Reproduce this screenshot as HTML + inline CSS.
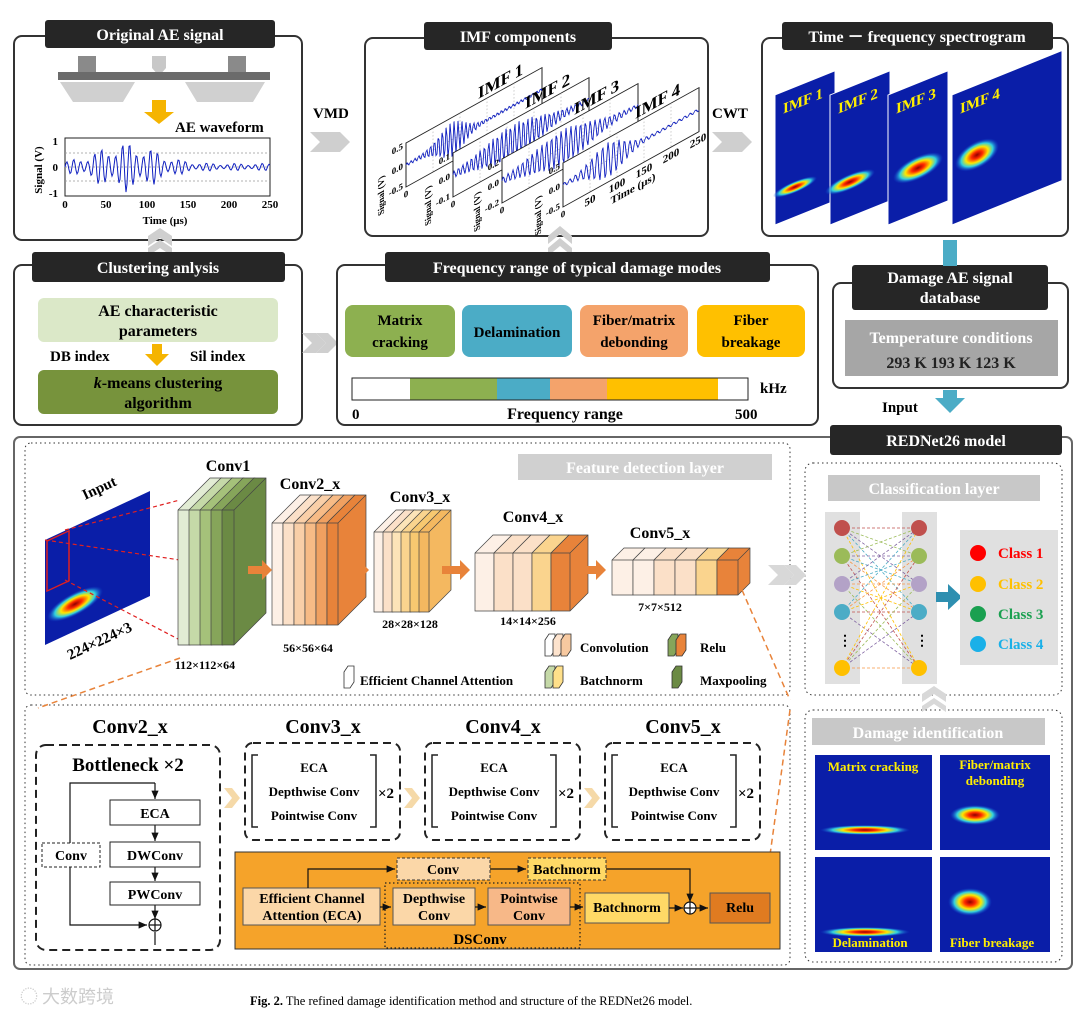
<!DOCTYPE html>
<html><head><meta charset="utf-8"><style>
html,body{margin:0;padding:0;background:#fff;}
svg{display:block;font-family:"Liberation Serif",serif;}
.b{font-weight:bold;}
</style></head><body>
<svg id="s" width="1080" height="1016" viewBox="0 0 1080 1016" xmlns="http://www.w3.org/2000/svg">
<defs>
<radialGradient id="hot" cx="50%" cy="50%" r="50%">
<stop offset="0" stop-color="#900000"/><stop offset="0.25" stop-color="#ff2a00"/><stop offset="0.5" stop-color="#ffe600"/><stop offset="0.72" stop-color="#30d0e0"/><stop offset="1" stop-color="#1040d0" stop-opacity="0"/>
</radialGradient>
<marker id="ah" markerWidth="8" markerHeight="8" refX="7" refY="4" orient="auto"><path d="M0,1 L7,4 L0,7z" fill="#111"/></marker>
</defs>

<!-- ===== Top row ===== -->
<rect x="14" y="36" width="288" height="204" rx="8" fill="#fff" stroke="#333" stroke-width="2"/>
<rect x="45" y="20" width="230" height="28" rx="3" fill="#262626"/>
<text x="160" y="40" fill="#fff" font-size="16" class="b" text-anchor="middle">Original AE signal</text>
<rect x="78" y="56" width="18" height="16" fill="#8a8a8a"/>
<rect x="228" y="56" width="18" height="16" fill="#8a8a8a"/>
<path d="M152 56 h14 v12 l-7 8 l-7 -8z" fill="#c8c8c8"/>
<rect x="58" y="72" width="212" height="8" fill="#6b6b6b"/>
<path d="M60 82 h75 l-12 20 h-50z M185 82 h80 l-12 20 h-56z" fill="#d0d0d0"/>
<path d="M152 100 h14 v12 h8 l-15 12 l-15 -12 h8z" fill="#f5b400"/>
<text x="175" y="132" font-size="15" class="b">AE waveform</text>
<rect x="65" y="138" width="205" height="58" fill="none" stroke="#222"/>
<g stroke="#999" stroke-dasharray="2,2" stroke-width="0.7"><line x1="65" y1="153" x2="270" y2="153"/><line x1="65" y1="167" x2="270" y2="167"/><line x1="65" y1="181" x2="270" y2="181"/></g>
<polyline id="w0" fill="none" stroke="#1020c0" stroke-width="1"/>
<g font-size="11" class="b" text-anchor="middle"><text x="65" y="208">0</text><text x="106" y="208">50</text><text x="147" y="208">100</text><text x="188" y="208">150</text><text x="229" y="208">200</text><text x="270" y="208">250</text>
<text x="58" y="145" text-anchor="end">1</text><text x="58" y="171" text-anchor="end">0</text><text x="58" y="197" text-anchor="end">-1</text></g>
<text x="165" y="224" font-size="11" class="b" text-anchor="middle">Time (μs)</text>
<text x="42" y="170" font-size="11" class="b" text-anchor="middle" transform="rotate(-90 42 170)">Signal (V)</text>

<!-- chevrons -->
<g fill="#cfcfcf"><path d="M310 132 h18 l10 10 l-10 10 h-18 l10 -10z"/><path d="M326 132 h14 l10 10 l-10 10 h-14 l10 -10z"/>
<path d="M712 132 h18 l10 10 l-10 10 h-18 l10 -10z"/><path d="M728 132 h14 l10 10 l-10 10 h-14 l10 -10z"/></g>
<text x="313" y="118" font-size="15" class="b">VMD</text>
<text x="712" y="118" font-size="15" class="b">CWT</text>

<rect x="365" y="38" width="343" height="198" rx="8" fill="#fff" stroke="#333" stroke-width="2"/>
<g id="imfs"></g>
<rect x="424" y="22" width="188" height="28" rx="3" fill="#262626"/>
<text x="518" y="42" fill="#fff" font-size="16" class="b" text-anchor="middle">IMF components</text>

<rect x="762" y="38" width="306" height="198" rx="8" fill="#fff" stroke="#333" stroke-width="2"/>
<rect x="782" y="22" width="271" height="28" rx="3" fill="#262626"/>
<text x="917" y="42" fill="#fff" font-size="16" class="b" text-anchor="middle">Time － frequency spectrogram</text>
<g id="specs"></g>

<!-- ===== Second row ===== -->
<path d="M148 236 l12 -8 l12 8 v10 l-12 -8 l-12 8z M148 248 l12 -8 l12 8 v8 l-12 -8 l-12 8z" fill="#cfcfcf"/>
<path d="M548 248 l12 -10 l12 10 v8 l-12 -10 l-12 10z M548 236 l12 -10 l12 10 v8 l-12 -10 l-12 10z" fill="#cfcfcf"/>
<rect x="14" y="265" width="288" height="160" rx="8" fill="#fff" stroke="#333" stroke-width="2"/>
<rect x="32" y="252" width="253" height="30" rx="3" fill="#262626"/>
<text x="158" y="273" fill="#fff" font-size="16" class="b" text-anchor="middle">Clustering anlysis</text>
<rect x="38" y="298" width="240" height="44" rx="6" fill="#dbe8c8"/>
<text x="158" y="316" font-size="16" class="b" text-anchor="middle">AE characteristic</text>
<text x="158" y="336" font-size="16" class="b" text-anchor="middle">parameters</text>
<text x="50" y="361" font-size="15" class="b">DB index</text>
<text x="190" y="361" font-size="15" class="b">Sil index</text>
<path d="M152 344 h10 v10 h7 l-12 12 l-12 -12 h7z" fill="#f5b400"/>
<rect x="38" y="370" width="240" height="44" rx="6" fill="#77933c"/>
<text x="158" y="388" font-size="16" class="b" text-anchor="middle"><tspan font-style="italic">k</tspan>-means clustering</text>
<text x="158" y="408" font-size="16" class="b" text-anchor="middle">algorithm</text>
<g fill="#cfcfcf"><path d="M302 333 h14 l10 10 l-10 10 h-14 l10 -10z"/><path d="M316 333 h12 l10 10 l-10 10 h-12 l10 -10z"/></g>

<rect x="337" y="265" width="481" height="160" rx="8" fill="#fff" stroke="#333" stroke-width="2"/>
<rect x="385" y="252" width="385" height="30" rx="3" fill="#262626"/>
<text x="577" y="273" fill="#fff" font-size="16" class="b" text-anchor="middle">Frequency range of typical damage modes</text>
<rect x="345" y="305" width="110" height="52" rx="8" fill="#8db050"/>
<rect x="462" y="305" width="110" height="52" rx="8" fill="#4bacc6"/>
<rect x="580" y="305" width="108" height="52" rx="8" fill="#f4a36b"/>
<rect x="697" y="305" width="108" height="52" rx="8" fill="#ffc000"/>
<g font-size="15" class="b" text-anchor="middle">
<text x="400" y="325">Matrix</text><text x="400" y="347">cracking</text>
<text x="517" y="337">Delamination</text>
<text x="634" y="325">Fiber/matrix</text><text x="634" y="347">debonding</text>
<text x="751" y="325">Fiber</text><text x="751" y="347">breakage</text></g>
<rect x="352" y="378" width="396" height="22" fill="#fff" stroke="#222"/>
<rect x="410" y="378" width="87" height="22" fill="#8db050"/>
<rect x="497" y="378" width="53" height="22" fill="#4bacc6"/>
<rect x="550" y="378" width="57" height="22" fill="#f4a36b"/>
<rect x="607" y="378" width="111" height="22" fill="#ffc000"/>
<rect x="352" y="378" width="396" height="22" fill="none" stroke="#222"/>
<text x="760" y="393" font-size="15" class="b">kHz</text>
<text x="352" y="419" font-size="15" class="b">0</text>
<text x="565" y="419" font-size="16" class="b" text-anchor="middle">Frequency range</text>
<text x="735" y="419" font-size="15" class="b">500</text>

<rect x="833" y="283" width="235" height="105" rx="8" fill="#fff" stroke="#333" stroke-width="2"/>
<rect x="852" y="265" width="196" height="45" rx="3" fill="#262626"/>
<text x="950" y="283" fill="#fff" font-size="16" class="b" text-anchor="middle">Damage AE signal</text>
<text x="950" y="303" fill="#fff" font-size="16" class="b" text-anchor="middle">database</text>
<rect x="845" y="320" width="213" height="56" fill="#a6a6a6"/>
<text x="951" y="343" fill="#fff" font-size="16" class="b" text-anchor="middle">Temperature conditions</text>
<text x="951" y="368" fill="#222" font-size="16" class="b" text-anchor="middle">293 K   193 K   123 K</text>
<rect x="943" y="240" width="14" height="26" fill="#4bacc6"/>
<path d="M943 390 h14 v8 h8 l-15 15 l-15 -15 h8z" fill="#4bacc6"/>
<text x="882" y="412" font-size="15" class="b">Input</text>

<!-- ===== REDNet26 ===== -->
<rect x="14" y="437" width="1058" height="532" rx="6" fill="#fff" stroke="#666" stroke-width="2"/>
<rect x="830" y="425" width="232" height="30" rx="3" fill="#262626"/>
<text x="946" y="446" fill="#fff" font-size="16" class="b" text-anchor="middle">REDNet26 model</text>
<rect x="25" y="443" width="765" height="252" rx="6" fill="none" stroke="#333" stroke-dasharray="1.5,3"/>
<rect x="25" y="705" width="765" height="260" rx="6" fill="none" stroke="#333" stroke-dasharray="1.5,3"/>
<rect x="805" y="463" width="257" height="232" rx="8" fill="none" stroke="#333" stroke-dasharray="1.5,3"/>
<rect x="805" y="710" width="257" height="252" rx="8" fill="none" stroke="#333" stroke-dasharray="1.5,3"/>

<rect x="518" y="454" width="254" height="26" fill="#d0d0d0"/>
<text x="645" y="473" fill="#fff" font-size="16" class="b" text-anchor="middle">Feature detection layer</text>

<!-- input image -->
<g transform="translate(45 540) skewY(-25)">
<rect x="0" y="0" width="105" height="105" fill="#0a1ea8"/>
<ellipse cx="30" cy="78" rx="28" ry="12" fill="url(#hot)"/>
<rect x="2" y="2" width="22" height="50" fill="none" stroke="#e02020" stroke-width="1.5"/>
</g>
<g stroke="#e02020" stroke-dasharray="4,3" stroke-width="1.2"><line x1="65" y1="530" x2="180" y2="500"/><line x1="65" y1="580" x2="180" y2="640"/><line x1="45" y1="540" x2="180" y2="560"/></g>
<text x="85" y="500" font-size="15" class="b" transform="rotate(-25 85 500)">Input</text>
<text x="70" y="660" font-size="15" class="b" transform="rotate(-25 70 660)">224×224×3</text>

<g id="convs"></g>
<g font-size="16" class="b" text-anchor="middle">
<text x="228" y="471">Conv1</text><text x="310" y="489">Conv2_x</text><text x="420" y="502">Conv3_x</text><text x="533" y="522">Conv4_x</text><text x="660" y="538">Conv5_x</text></g>
<g font-size="12" class="b" text-anchor="middle">
<text x="205" y="669">112×112×64</text><text x="308" y="652">56×56×64</text><text x="410" y="628">28×28×128</text><text x="528" y="625">14×14×256</text><text x="660" y="611">7×7×512</text></g>
<g fill="#e8833a"><path d="M248 566 h14 v-6 l10 10 l-10 10 v-6 h-14z"/><path d="M345 566 h14 v-6 l10 10 l-10 10 v-6 h-14z"/><path d="M442 566 h18 v-6 l10 10 l-10 10 v-6 h-18z"/><path d="M578 566 h18 v-6 l10 10 l-10 10 v-6 h-18z"/></g>

<!-- legend -->
<g stroke="#333" stroke-width="0.8">
<path d="M545 640 l4 -6 h6 v16 l-4 6 h-6z" fill="#fff"/><path d="M553 640 l4 -6 h6 v16 l-4 6 h-6z" fill="#fde3cd"/><path d="M561 640 l4 -6 h6 v16 l-4 6 h-6z" fill="#f7c9a0"/>
<path d="M668 640 l4 -6 h6 v16 l-4 6 h-6z" fill="#86a55a"/><path d="M676 640 l4 -6 h6 v16 l-4 6 h-6z" fill="#e8833a"/>
<path d="M344 672 l4 -6 h6 v16 l-4 6 h-6z" fill="#fff"/>
<path d="M545 672 l4 -6 h6 v16 l-4 6 h-6z" fill="#c5d9a8"/><path d="M553 672 l4 -6 h6 v16 l-4 6 h-6z" fill="#ffe08a"/>
<path d="M672 672 l4 -6 h6 v16 l-4 6 h-6z" fill="#6b8a44"/></g>
<g font-size="13" class="b"><text x="580" y="652">Convolution</text><text x="700" y="652">Relu</text><text x="360" y="685">Efficient Channel Attention</text><text x="580" y="685">Batchnorm</text><text x="700" y="685">Maxpooling</text></g>

<g fill="#d8d8d8"><path d="M768 565 h16 l10 10 l-10 10 h-16 l10 -10z"/><path d="M784 565 h12 l10 10 l-10 10 h-12 l10 -10z"/></g>

<!-- classification -->
<rect x="828" y="475" width="212" height="26" fill="#c8c8c8"/>
<text x="934" y="494" fill="#fff" font-size="16" class="b" text-anchor="middle">Classification layer</text>
<rect x="825" y="512" width="35" height="172" fill="#e0e0e0"/>
<rect x="902" y="512" width="35" height="172" fill="#e0e0e0"/>
<g id="net"></g>
<path d="M936 592 h12 v-8 l14 13 l-14 13 v-8 h-12z" fill="#2e8fb0"/>
<rect x="960" y="530" width="98" height="135" fill="#e0e0e0"/>
<g font-size="15" class="b">
<circle cx="978" cy="553" r="8" fill="#ff0000"/><text x="998" y="558" fill="#ff0000">Class 1</text>
<circle cx="978" cy="584" r="8" fill="#ffc000"/><text x="998" y="589" fill="#ffc000">Class 2</text>
<circle cx="978" cy="614" r="8" fill="#1aa050"/><text x="998" y="619" fill="#1aa050">Class 3</text>
<circle cx="978" cy="644" r="8" fill="#1ab0e8"/><text x="998" y="649" fill="#1ab0e8">Class 4</text></g>
<path d="M922 694 l12 -8 l12 8 v8 l-12 -8 l-12 8z M922 706 l12 -8 l12 8 v6 l-12 -8 l-12 8z" fill="#d8d8d8"/>

<!-- damage identification -->
<rect x="812" y="718" width="233" height="27" fill="#c8c8c8"/>
<text x="928" y="738" fill="#fff" font-size="16" class="b" text-anchor="middle">Damage identification</text>
<g id="dmg"></g>

<!-- lower: bottleneck -->
<line x1="180" y1="658" x2="38" y2="708" stroke="#e8833a" stroke-width="1.5" stroke-dasharray="6,4"/>
<line x1="742" y1="590" x2="790" y2="700" stroke="#e8833a" stroke-width="1.5" stroke-dasharray="6,4"/>
<line x1="790" y1="710" x2="770" y2="855" stroke="#e8833a" stroke-width="1.5" stroke-dasharray="6,4"/>
<text x="130" y="733" font-size="20" class="b" text-anchor="middle">Conv2_x</text>
<rect x="36" y="745" width="184" height="205" rx="10" fill="#fff" stroke="#222" stroke-width="2" stroke-dasharray="8,5"/>
<text x="128" y="771" font-size="19" class="b" text-anchor="middle">Bottleneck ×2</text>
<g stroke="#111" fill="none" stroke-width="1.2">
<polyline points="155,783 70,783 70,925 147,925" marker-end="url(#ah)"/>
<line x1="155" y1="783" x2="155" y2="799" marker-end="url(#ah)"/>
<line x1="155" y1="825" x2="155" y2="841" marker-end="url(#ah)"/>
<line x1="155" y1="867" x2="155" y2="881" marker-end="url(#ah)"/>
<line x1="155" y1="905" x2="155" y2="919" marker-end="url(#ah)"/>
<line x1="155" y1="932" x2="155" y2="945"/>
<circle cx="155" cy="925" r="6" fill="#fff"/><path d="M149 925 h12 M155 919 v12"/></g>
<rect x="110" y="800" width="90" height="25" fill="#fff" stroke="#222"/>
<rect x="110" y="842" width="90" height="25" fill="#fff" stroke="#222"/>
<rect x="110" y="882" width="90" height="23" fill="#fff" stroke="#222"/>
<rect x="42" y="843" width="58" height="24" fill="#fff" stroke="#222" stroke-dasharray="3,2"/>
<g font-size="14" class="b" text-anchor="middle"><text x="155" y="818">ECA</text><text x="155" y="860">DWConv</text><text x="155" y="899">PWConv</text><text x="71" y="860">Conv</text></g>

<g id="cx"></g>
<g fill="#f5d9a8"><path d="M224 788 h8 l8 10 l-8 10 h-8 l8 -10z"/><path d="M404 788 h8 l8 10 l-8 10 h-8 l8 -10z"/><path d="M584 788 h8 l8 10 l-8 10 h-8 l8 -10z"/></g>

<!-- DSConv panel -->
<rect x="235" y="852" width="545" height="97" fill="#f5a32a" stroke="#333"/>
<rect x="385" y="883" width="195" height="65" fill="none" stroke="#222" stroke-dasharray="1.5,2.5" stroke-width="1.3"/>
<rect x="243" y="888" width="137" height="37" fill="#fbd7a8" stroke="#555"/>
<rect x="393" y="888" width="82" height="37" fill="#fbd7a8" stroke="#555"/>
<rect x="488" y="888" width="82" height="37" fill="#f7b888" stroke="#555"/>
<rect x="585" y="893" width="84" height="30" fill="#ffd966" stroke="#555"/>
<rect x="710" y="893" width="60" height="30" fill="#e07b20" stroke="#555"/>
<rect x="397" y="858" width="93" height="22" fill="#fbd7a8" stroke="#333" stroke-dasharray="3,2"/>
<rect x="528" y="858" width="78" height="22" fill="#ffd966" stroke="#333" stroke-dasharray="3,2"/>
<g stroke="#111" fill="none" stroke-width="1.2">
<polyline points="308,888 308,869 395,869" marker-end="url(#ah)"/>
<line x1="490" y1="869" x2="526" y2="869" marker-end="url(#ah)"/>
<polyline points="606,869 690,869 690,902" marker-end="url(#ah)"/>
<line x1="380" y1="907" x2="391" y2="907" marker-end="url(#ah)"/>
<line x1="475" y1="907" x2="486" y2="907" marker-end="url(#ah)"/>
<line x1="570" y1="907" x2="583" y2="907" marker-end="url(#ah)"/>
<line x1="669" y1="908" x2="683" y2="908" marker-end="url(#ah)"/>
<line x1="696" y1="908" x2="708" y2="908" marker-end="url(#ah)"/>
<circle cx="690" cy="908" r="6" fill="#fff"/><path d="M684 908 h12 M690 902 v12"/></g>
<g font-size="14" class="b" text-anchor="middle">
<text x="312" y="903">Efficient Channel</text><text x="312" y="920">Attention (ECA)</text>
<text x="434" y="903">Depthwise</text><text x="434" y="920">Conv</text>
<text x="529" y="903">Pointwise</text><text x="529" y="920">Conv</text>
<text x="627" y="912">Batchnorm</text><text x="740" y="912">Relu</text>
<text x="443" y="874">Conv</text><text x="567" y="874">Batchnorm</text>
<text x="480" y="944" font-size="15">DSConv</text></g>

<text x="20" y="1003" font-size="18" fill="#ccc" font-family="Noto Sans CJK SC,sans-serif">◌ 大数跨境</text>
<text x="250" y="1005" font-size="12.5"><tspan class="b">Fig. 2.</tspan> The refined damage identification method and structure of the REDNet26 model.</text>
</svg>
<script>
var NS="http://www.w3.org/2000/svg";
function el(p,t,a,txt){var e=document.createElementNS(NS,t);for(var k in a)e.setAttribute(k,a[k]);if(txt)e.textContent=txt;document.getElementById(p).appendChild(e);return e;}
function ch(g,t,a,txt){var e=document.createElementNS(NS,t);for(var k in a)e.setAttribute(k,a[k]);if(txt)e.textContent=txt;g.appendChild(e);return e;}
// waveform
(function(){var pts=[];for(var i=0;i<=205;i++){var t=i/205;var env=Math.exp(-Math.pow((t-0.3)/0.2,2))*0.9+0.15;var v=Math.sin(i*0.9)*env*(0.7+0.3*Math.sin(i*0.23));pts.push((65+i)+","+(167-v*24).toFixed(1));}document.getElementById("w0").setAttribute("points",pts.join(" "));})();
// IMF stacked plots
(function(){var offs=[[406,187],[453,197],[502,203],[563,207]];var yl=[["0.5","0.0","-0.5"],["0.1","0.0","-0.1"],["0.2","0.0","-0.2"],["0.5","0.0","-0.5"]];
for(var k=0;k<4;k++){var x0=offs[k][0],y0=offs[k][1];var g=el("imfs","g",{transform:"translate("+x0+" "+y0+") skewY(-29)"});
ch(g,"rect",{x:0,y:-44,width:136,height:44,fill:"#fff",stroke:"#222"});
for(var q=1;q<5;q++)ch(g,"line",{x1:q*27,y1:-44,x2:q*27,y2:0,stroke:"#aaa","stroke-dasharray":"1.5,2","stroke-width":0.6});
ch(g,"line",{x1:0,y1:-22,x2:136,y2:-22,stroke:"#aaa","stroke-dasharray":"1.5,2","stroke-width":0.6});
var pts=[];for(var i=0;i<=136;i++){var c=[45,60,60,45][k];var env=Math.exp(-Math.pow((i-c)/([18,40,40,22][k]),2))*0.9+0.08;pts.push(i+","+(-22-Math.sin(i*(1.6-k*0.15))*env*18).toFixed(1));}
ch(g,"polyline",{points:pts.join(" "),fill:"none",stroke:"#1020c0","stroke-width":"0.9"});
ch(g,"text",{x:72,y:-48,"font-size":17,"font-weight":"bold"},"IMF "+(k+1));
for(var q=0;q<3;q++)ch(g,"text",{x:-3,y:-40+q*20,"font-size":9,"font-weight":"bold","text-anchor":"end"},yl[k][q]);
ch(g,"text",{x:-22,y:-5,"font-size":9,"font-weight":"bold",transform:"rotate(-90 -22 -5)","text-anchor":"middle"},"Signal (V)");
ch(g,"text",{x:0,y:10,"font-size":9,"font-weight":"bold","text-anchor":"middle"},"0");}
var g=el("imfs","g",{transform:"translate(563 207) skewY(-29)"});
["50","100","150","200","250"].forEach(function(s,i){ch(g,"text",{x:(i+1)*27,y:12,"font-size":11,"font-weight":"bold","text-anchor":"middle"},s);});
ch(g,"text",{x:70,y:24,"font-size":11,"font-weight":"bold","text-anchor":"middle"},"Time (μs)");})();
// spectrograms
(function(){var xs=[775,830,888,952];var blobs=[[20,100,22,6],[20,95,25,8],[30,85,25,12],[25,70,22,14]];for(var k=0;k<4;k++){var g=el("specs","g",{transform:"translate("+xs[k]+" 95) skewY(-22)"});
ch(g,"rect",{x:0,y:0,width:k==3?110:60,height:130,fill:"#0a1ea8",stroke:"#fff"});
ch(g,"ellipse",{cx:blobs[k][0],cy:blobs[k][1],rx:blobs[k][2],ry:blobs[k][3],fill:"url(#hot)"});
ch(g,"text",{x:8,y:22,fill:"#ffee00","font-size":15,"font-weight":"bold"},"IMF "+(k+1));}})();
// conv blocks
function slab(x,y,w,h,d,c){el("convs","path",{d:"M"+x+" "+(y+d)+" L"+(x+d)+" "+y+" L"+(x+d+w)+" "+y+" L"+(x+d+w)+" "+(y+h)+" L"+(x+w)+" "+(y+h+d)+" L"+x+" "+(y+h+d)+"Z",fill:c,stroke:"#444","stroke-width":"0.7"});el("convs","path",{d:"M"+x+" "+(y+d)+" h"+w+" v"+h+" M"+(x+w)+" "+(y+d)+" l"+d+" "+(-d),fill:"none",stroke:"#444","stroke-width":"0.7"});}
["#e2ecd4","#c5d9a8","#a5c17a","#86a55a","#6b8a44"].forEach(function(c,i){slab(178+i*11,478,12,135,32,c);});
["#fdf0e6","#fbe0c8","#f9cfa8","#f7bb86","#f0a060","#e8833a"].forEach(function(c,i){slab(272+i*11,495,11,102,28,c);});
["#fdf0e6","#fbe0c8","#fce4b8","#fad48e","#f7c870","#f4b860"].forEach(function(c,i){slab(374+i*9,510,10,80,22,c);});
["#fdf0e6","#fbe0c8","#fbe0c8","#fad48e","#e8833a"].forEach(function(c,i){slab(475+i*19,535,19,58,18,c);});
["#fdf0e6","#fdf0e6","#fbe0c8","#fbe0c8","#fad48e","#e8833a"].forEach(function(c,i){slab(612+i*21,548,21,35,12,c);});
// network
(function(){var ys=[528,556,584,612,640,668];var cl=["#c0504d","#9bbb59","#b3a2c7","#4bacc6","#888","#ffc000"];var lc=["#c0504d","#9bbb59","#8064a2","#4bacc6","#f79646","#ffc000"];
for(var i=0;i<6;i++)for(var j=0;j<6;j++){if(i==4||j==4)continue;el("net","line",{x1:842,y1:ys[i],x2:919,y2:ys[j],stroke:lc[(i+j)%6],"stroke-width":"0.8","stroke-dasharray":"3,2"});}
for(var i=0;i<6;i++){if(i==4){el("net","text",{x:838,y:645,"font-size":14,"font-weight":"bold"},"⋮");el("net","text",{x:915,y:645,"font-size":14,"font-weight":"bold"},"⋮");continue;}el("net","circle",{cx:842,cy:ys[i],r:8,fill:cl[i]});el("net","circle",{cx:919,cy:ys[i],r:8,fill:cl[i]});}})();
// damage id
(function(){var b=[[815,755,117,95,"",50,75,45,5],[940,755,110,95,"",35,60,25,10],[815,857,117,95,"",50,75,45,5],[940,857,110,95,"",30,45,22,14]];
b.forEach(function(q){el("dmg","rect",{x:q[0],y:q[1],width:q[2],height:q[3],fill:"#0a1ea8"});el("dmg","ellipse",{cx:q[0]+q[5],cy:q[1]+q[6],rx:q[7],ry:q[8],fill:"url(#hot)"});});
var t=function(x,y,s){el("dmg","text",{x:x,y:y,fill:"#ffee00","font-size":13,"font-weight":"bold","text-anchor":"middle"},s);};
t(873,771,"Matrix cracking");t(995,769,"Fiber/matrix");t(995,785,"debonding");t(870,947,"Delamination");t(992,947,"Fiber breakage");})();
// conv3-5 boxes
[[245,"Conv3_x"],[425,"Conv4_x"],[605,"Conv5_x"]].forEach(function(q){var x=q[0];el("cx","text",{x:x+78,y:733,"font-size":20,"font-weight":"bold","text-anchor":"middle"},q[1]);
el("cx","rect",{x:x,y:743,width:155,height:97,rx:8,fill:"#fff",stroke:"#222","stroke-width":2,"stroke-dasharray":"8,5"});
el("cx","path",{d:"M"+(x+13)+" 755 h-6 v72 h6 M"+(x+125)+" 755 h6 v72 h-6",fill:"none",stroke:"#222","stroke-width":1.5});
el("cx","text",{x:x+69,y:772,"font-size":13,"font-weight":"bold","text-anchor":"middle"},"ECA");
el("cx","text",{x:x+69,y:796,"font-size":13,"font-weight":"bold","text-anchor":"middle"},"Depthwise Conv");
el("cx","text",{x:x+69,y:820,"font-size":13,"font-weight":"bold","text-anchor":"middle"},"Pointwise Conv");
el("cx","text",{x:x+133,y:798,"font-size":15,"font-weight":"bold"},"×2");});
</script>
</body></html>
